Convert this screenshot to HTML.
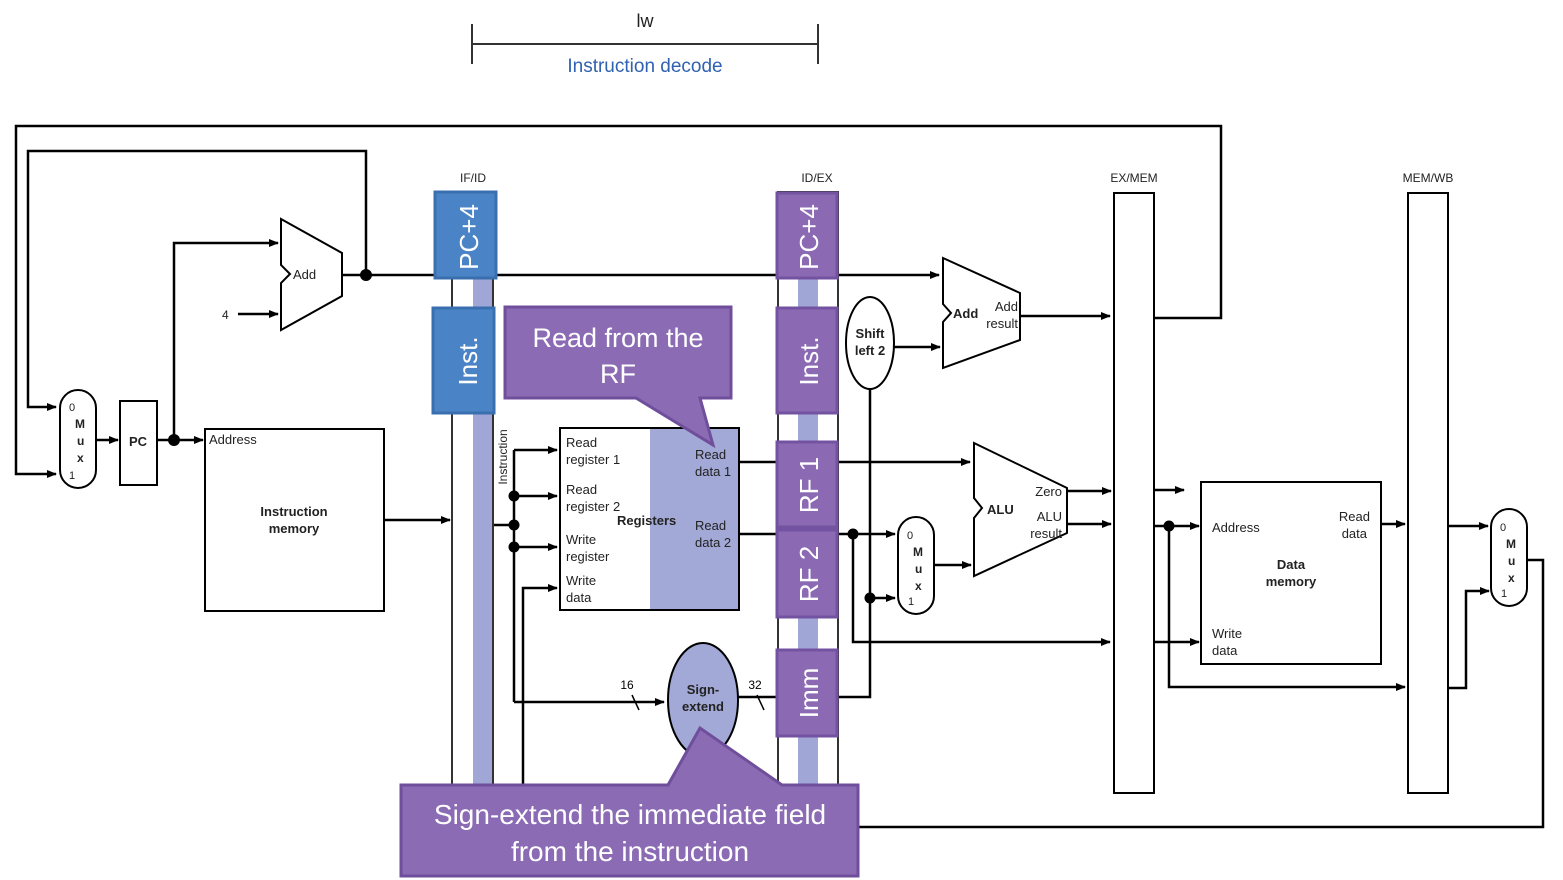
<!DOCTYPE html>
<html><head><meta charset="utf-8"><style>
html,body{margin:0;padding:0;background:#fff}
svg{display:block}
text{font-family:"Liberation Sans",sans-serif}
</style></head><body>
<svg width="1563" height="880" viewBox="0 0 1563 880" xmlns="http://www.w3.org/2000/svg">
<defs>
<marker id="a" markerWidth="10" markerHeight="8" refX="9" refY="4" orient="auto" markerUnits="userSpaceOnUse"><path d="M0,0 L10,4 L0,8 Z" fill="#000"/></marker>
</defs>
<!-- header -->
<text x="645" y="27" font-size="18" text-anchor="middle" fill="#222">lw</text>
<g stroke="#333" stroke-width="2"><line x1="472" y1="44" x2="818" y2="44"/><line x1="472" y1="24" x2="472" y2="64"/><line x1="818" y1="24" x2="818" y2="64"/></g>
<text x="645" y="72" font-size="19" text-anchor="middle" fill="#2f62b0">Instruction decode</text>

<g fill="none" stroke="#000" stroke-width="2.5">
<!-- loops -->
<polyline points="1155,318 1221,318 1221,126 16,126 16,474 56,474" marker-end="url(#a)"/>
<polyline points="366,275 366,151 28,151 28,407 56,407" marker-end="url(#a)"/>
<line x1="96" y1="440" x2="118" y2="440" marker-end="url(#a)"/>
<line x1="157" y1="440" x2="203" y2="440" marker-end="url(#a)"/>
<polyline points="174,440 174,243 278,243" marker-end="url(#a)"/>
<line x1="238" y1="314" x2="278" y2="314" marker-end="url(#a)"/>
<line x1="342" y1="275" x2="435" y2="275"/>
<line x1="496" y1="275" x2="776" y2="275"/>
<line x1="838" y1="275" x2="939" y2="275" marker-end="url(#a)"/>
<line x1="384" y1="520" x2="450" y2="520" marker-end="url(#a)"/>
<!-- register inputs -->
<line x1="493" y1="525" x2="514" y2="525"/>
<line x1="514" y1="450" x2="514" y2="702"/>
<line x1="514" y1="450" x2="557" y2="450" marker-end="url(#a)"/>
<line x1="514" y1="496" x2="557" y2="496" marker-end="url(#a)"/>
<line x1="514" y1="547" x2="557" y2="547" marker-end="url(#a)"/>
<line x1="514" y1="702" x2="664" y2="702" marker-end="url(#a)"/>
<polyline points="523,785 523,588 557,588" marker-end="url(#a)"/>
<!-- read data -->
<line x1="739" y1="462" x2="776" y2="462"/>
<line x1="838" y1="462" x2="970" y2="462" marker-end="url(#a)"/>
<line x1="739" y1="534" x2="776" y2="534"/>
<line x1="838" y1="534" x2="895" y2="534" marker-end="url(#a)"/>
<polyline points="853,534 853,642 1110,642" marker-end="url(#a)"/>
<line x1="738" y1="697" x2="776" y2="697"/>
<polyline points="838,697 870,697 870,389"/>
<line x1="870" y1="598" x2="895" y2="598" marker-end="url(#a)"/>
<line x1="894" y1="347" x2="940" y2="347" marker-end="url(#a)"/>
<line x1="1020" y1="316" x2="1110" y2="316" marker-end="url(#a)"/>
<line x1="934" y1="565" x2="971" y2="565" marker-end="url(#a)"/>
<line x1="1067" y1="491" x2="1111" y2="491" marker-end="url(#a)"/>
<line x1="1067" y1="524" x2="1111" y2="524" marker-end="url(#a)"/>
<!-- EX/MEM out -->
<line x1="1155" y1="490" x2="1184" y2="490" marker-end="url(#a)"/>
<line x1="1155" y1="526" x2="1199" y2="526" marker-end="url(#a)"/>
<polyline points="1169,526 1169,687 1405,687" marker-end="url(#a)"/>
<line x1="1155" y1="642" x2="1199" y2="642" marker-end="url(#a)"/>
<line x1="1381" y1="524" x2="1405" y2="524" marker-end="url(#a)"/>
<line x1="1448" y1="526" x2="1488" y2="526" marker-end="url(#a)"/>
<polyline points="1448,688 1466,688 1466,591 1489,591" marker-end="url(#a)"/>
<polyline points="1527,560 1543,560 1543,827 858,827"/>
</g>
<!-- dots -->
<g fill="#000">
<circle cx="366" cy="275" r="6"/><circle cx="174" cy="440" r="6"/>
<circle cx="514" cy="496" r="5.5"/><circle cx="514" cy="525" r="5.5"/><circle cx="514" cy="547" r="5.5"/>
<circle cx="853" cy="534" r="5.5"/><circle cx="870" cy="598" r="5.5"/><circle cx="1169" cy="526" r="5.5"/>
</g>
<!-- mux1, PC -->
<g fill="#fff" stroke="#000" stroke-width="2">
<rect x="60" y="390" width="36" height="98" rx="18"/>
<rect x="120" y="401" width="37" height="84"/>
<path d="M281,219 L342,253 L342,296 L281,330 L281,283 L290,274 L281,265 Z"/>
<rect x="205" y="429" width="179" height="182"/>
</g>
<g font-size="11" fill="#222">
<text x="69" y="411">0</text><text x="75" y="428" font-weight="bold" font-size="12">M</text><text x="77" y="445" font-weight="bold" font-size="12">u</text><text x="77" y="462" font-weight="bold" font-size="12">x</text><text x="69" y="479">1</text>
<text x="138" y="446" font-weight="bold" font-size="13" text-anchor="middle">PC</text>
<text x="293" y="279" font-size="13">Add</text>
<text x="222" y="319" font-size="12">4</text>
<text x="209" y="444" font-size="13">Address</text>
<text x="294" y="516" font-size="13" font-weight="bold" text-anchor="middle">Instruction</text>
<text x="294" y="533" font-size="13" font-weight="bold" text-anchor="middle">memory</text>
</g>
<!-- IF/ID -->
<text x="473" y="182" font-size="12" text-anchor="middle" fill="#222">IF/ID</text>
<rect x="452" y="192" width="41" height="598" fill="#fff" stroke="#333" stroke-width="2"/>
<rect x="473" y="192" width="19" height="598" fill="#a0a6d6"/>
<rect x="435" y="192" width="61" height="86" fill="#4b84c6" stroke="#3a6faf" stroke-width="3"/>
<rect x="433" y="308" width="61" height="105" fill="#4b84c6" stroke="#3a6faf" stroke-width="3"/>
<text transform="translate(478,237) rotate(-90)" font-size="26" fill="#fff" text-anchor="middle">PC+4</text>
<text transform="translate(477,361) rotate(-90)" font-size="26" fill="#fff" text-anchor="middle">Inst.</text>
<text transform="translate(507,457) rotate(-90)" font-size="12" fill="#222" text-anchor="middle">Instruction</text>
<!-- ID/EX -->
<text x="817" y="182" font-size="12" text-anchor="middle" fill="#222">ID/EX</text>
<rect x="778" y="192" width="60" height="598" fill="#fff" stroke="#333" stroke-width="2"/>
<rect x="798" y="192" width="20" height="598" fill="#a0a6d6"/>
<g fill="#8b69b3" stroke="#7352a1" stroke-width="3">
<rect x="777" y="193" width="60" height="85"/>
<rect x="777" y="308" width="60" height="105"/>
<rect x="777" y="442" width="60" height="85"/>
<rect x="777" y="530" width="60" height="87"/>
<rect x="777" y="650" width="60" height="86"/>
</g>
<g font-size="26" fill="#fff" text-anchor="middle">
<text transform="translate(818,237) rotate(-90)">PC+4</text>
<text transform="translate(818,361) rotate(-90)">Inst.</text>
<text transform="translate(818,485) rotate(-90)">RF 1</text>
<text transform="translate(818,574) rotate(-90)">RF 2</text>
<text transform="translate(818,693) rotate(-90)">Imm</text>
</g>
<!-- registers -->
<rect x="560" y="428" width="179" height="182" fill="#fff" stroke="#000" stroke-width="2"/>
<rect x="650" y="429" width="88" height="180" fill="#a3a9d6"/>
<g font-size="13" fill="#222">
<text x="566" y="447">Read</text><text x="566" y="464">register 1</text>
<text x="566" y="494">Read</text><text x="566" y="511">register 2</text>
<text x="566" y="544">Write</text><text x="566" y="561">register</text>
<text x="566" y="585">Write</text><text x="566" y="602">data</text>
<text x="695" y="459">Read</text><text x="695" y="476">data 1</text>
<text x="695" y="530">Read</text><text x="695" y="547">data 2</text>
<text x="617" y="525" font-weight="bold">Registers</text>
</g>
<!-- sign extend -->
<ellipse cx="703" cy="700" rx="35" ry="57" fill="#a3a9d6" stroke="#000" stroke-width="2"/>
<text x="703" y="694" font-size="13" font-weight="bold" text-anchor="middle" fill="#222">Sign-</text>
<text x="703" y="711" font-size="13" font-weight="bold" text-anchor="middle" fill="#222">extend</text>
<text x="627" y="689" font-size="12" text-anchor="middle">16</text>
<text x="755" y="689" font-size="12" text-anchor="middle">32</text>
<g stroke="#000" stroke-width="1.5"><line x1="632" y1="695" x2="639" y2="710"/><line x1="757" y1="695" x2="764" y2="710"/></g>
<!-- shift left, add, alu, mux2 -->
<g fill="#fff" stroke="#000" stroke-width="2">
<ellipse cx="870" cy="343" rx="24" ry="46"/>
<path d="M943,258 L1020,293 L1020,340 L943,368 L943,322 L951,313 L943,304 Z"/>
<path d="M974,443 L1067,488 L1067,533 L974,576 L974,518 L982,508 L974,498 Z"/>
<rect x="898" y="517" width="36" height="97" rx="18"/>
<rect x="1114" y="193" width="40" height="600"/>
<rect x="1408" y="193" width="40" height="600"/>
<rect x="1201" y="482" width="180" height="182"/>
<rect x="1491" y="509" width="36" height="97" rx="18"/>
</g>
<g fill="#222" font-size="13">
<text x="870" y="338" font-weight="bold" text-anchor="middle">Shift</text>
<text x="870" y="355" font-weight="bold" text-anchor="middle">left 2</text>
<text x="953" y="318" font-weight="bold">Add</text>
<text x="1018" y="311" text-anchor="end">Add</text><text x="1018" y="328" text-anchor="end">result</text>
<text x="987" y="514" font-weight="bold">ALU</text>
<text x="1062" y="496" text-anchor="end">Zero</text>
<text x="1062" y="521" text-anchor="end">ALU</text><text x="1062" y="538" text-anchor="end">result</text>
<text x="907" y="539" font-size="11">0</text><text x="913" y="556" font-weight="bold" font-size="12">M</text><text x="915" y="573" font-weight="bold" font-size="12">u</text><text x="915" y="590" font-weight="bold" font-size="12">x</text><text x="908" y="605" font-size="11">1</text>
<text x="1134" y="182" font-size="12" text-anchor="middle">EX/MEM</text>
<text x="1428" y="182" font-size="12" text-anchor="middle">MEM/WB</text>
<text x="1212" y="532">Address</text>
<text x="1370" y="521" text-anchor="end">Read</text><text x="1367" y="538" text-anchor="end">data</text>
<text x="1291" y="569" font-weight="bold" text-anchor="middle">Data</text>
<text x="1291" y="586" font-weight="bold" text-anchor="middle">memory</text>
<text x="1212" y="638">Write</text><text x="1212" y="655">data</text>
<text x="1500" y="531" font-size="11">0</text><text x="1506" y="548" font-weight="bold" font-size="12">M</text><text x="1508" y="565" font-weight="bold" font-size="12">u</text><text x="1508" y="582" font-weight="bold" font-size="12">x</text><text x="1501" y="597" font-size="11">1</text>
</g>
<!-- callouts -->
<path d="M505,307 L731,307 L731,398 L700,398 L713,445 L636,398 L505,398 Z" fill="#8b6bb3" stroke="#6f4f9c" stroke-width="3"/>
<text x="618" y="347" font-size="27" fill="#fff" text-anchor="middle">Read from the</text>
<text x="618" y="383" font-size="27" fill="#fff" text-anchor="middle">RF</text>
<path d="M401,785 L668,785 L700,728 L782,785 L858,785 L858,876 L401,876 Z" fill="#8b6bb3" stroke="#6f4f9c" stroke-width="3"/>
<text x="630" y="824" font-size="28" fill="#fff" text-anchor="middle">Sign-extend the immediate field</text>
<text x="630" y="861" font-size="28" fill="#fff" text-anchor="middle">from the instruction</text>
</svg>
</body></html>
